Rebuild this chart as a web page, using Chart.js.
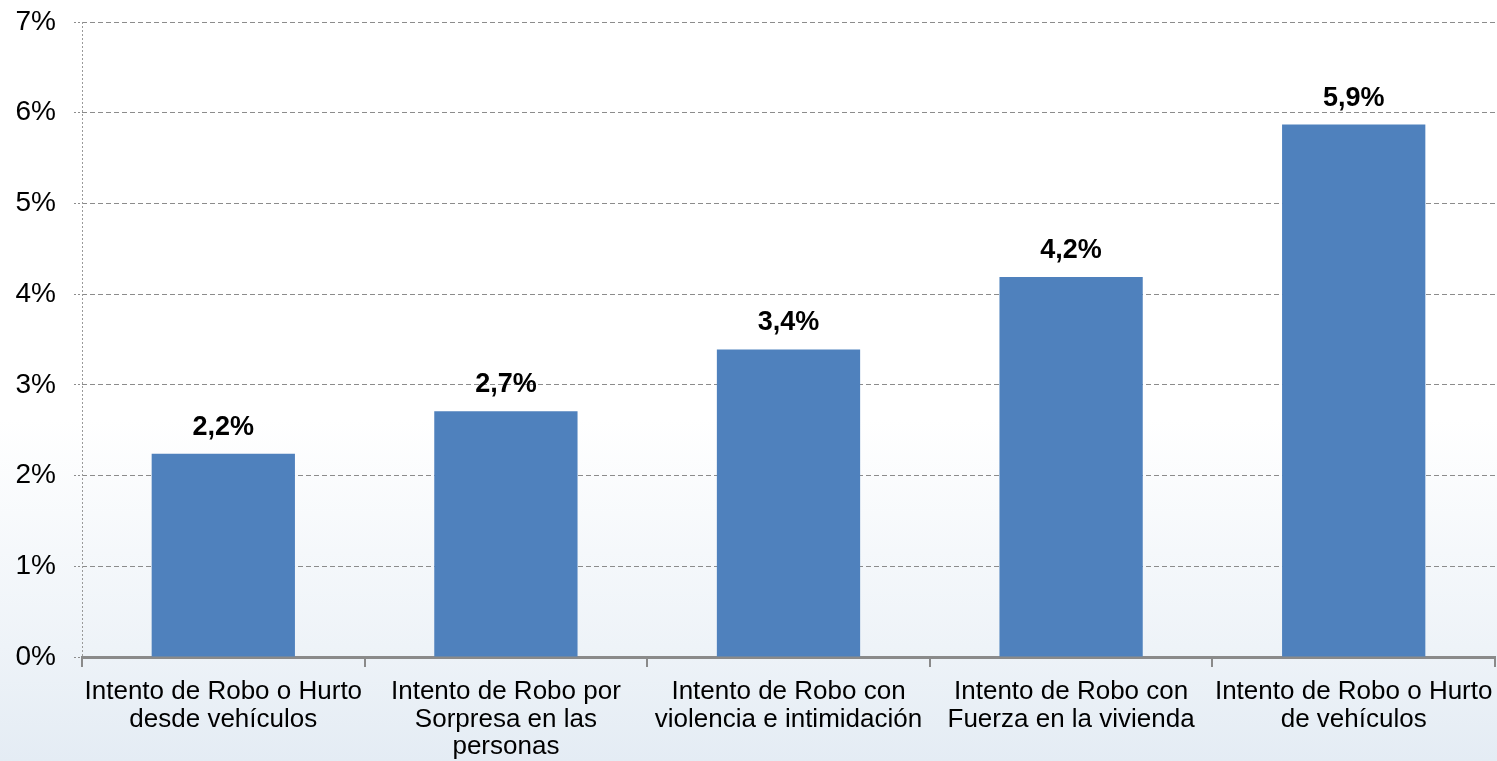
<!DOCTYPE html>
<html>
<head>
<meta charset="utf-8">
<script src="https://cdn.jsdelivr.net/npm/chart.js@4/dist/chart.umd.min.js"></script>
<style>
  html, body { margin: 0; padding: 0; }
  body {
    width: 1497px; height: 761px; overflow: hidden;
    background: linear-gradient(to bottom, #ffffff 0%, #ffffff 55%, #eef3f8 85%, #e4ecf4 100%);
  }
  canvas { display: block; }
</style>
</head>
<body>
<canvas id="grafico" width="1497" height="761"></canvas>
<script>
const categorias = [
    ["Intento de Robo o Hurto", "desde vehículos"],
    ["Intento de Robo por", "Sorpresa en las", "personas"],
    ["Intento de Robo con", "violencia e intimidación"],
    ["Intento de Robo con", "Fuerza en la vivienda"],
    ["Intento de Robo o Hurto", "de vehículos"]
];
const valores = [2.24, 2.71, 3.39, 4.19, 5.87];
const ticksY = [0, 1, 2, 3, 4, 5, 6, 7];

// etiquetas encima de cada barra + eje vertical punteado
const etiquetas = {
    id: "etiquetas",
    beforeDatasetsDraw(chart) {
        const { ctx, chartArea } = chart;
        ctx.save();
        ctx.strokeStyle = "#9a9a9a";
        ctx.lineWidth = 1;
        ctx.setLineDash([2, 2]);
        ctx.beginPath();
        ctx.moveTo(chartArea.left + 0.5, chartArea.top);
        ctx.lineTo(chartArea.left + 0.5, chartArea.bottom);
        ctx.stroke();
        ctx.restore();
    },
    afterDatasetsDraw(chart) {
        const ctx = chart.ctx;
        const meta = chart.getDatasetMeta(0);
        ctx.save();
        ctx.font = "bold 27px 'Liberation Sans', Arial, sans-serif";
        ctx.fillStyle = "#000";
        ctx.textAlign = "center";
        ctx.textBaseline = "alphabetic";
        meta.data.forEach((bar, i) => {
            const txt = valores[i].toFixed(1).replace(".", ",") + "%";
            ctx.fillText(txt, bar.x, bar.y - 19);
        });
        ctx.restore();
    }
};

const ctx = document.getElementById("grafico").getContext("2d");
const grafico = new Chart(ctx, {
    type: "bar",
    data: {
        labels: categorias,
        datasets: [
            {
                data: valores,
                backgroundColor: "#4F81BD",
                borderWidth: 0,
                barPercentage: 0.507,
                categoryPercentage: 1
            }
        ]
    },
    options: {
        responsive: false,
        animation: false,
        layout: { padding: { top: 22, right: 2, left: 14, bottom: 2 } },
        plugins: {
            legend: { display: false },
            tooltip: { enabled: false }
        },
        scales: {
            x: {
                afterFit(scale) {
                    scale.height = 102;
                    scale.paddingLeft = 0;
                    scale.paddingRight = 0;
                },
                grid: {
                    offset: true,
                    drawOnChartArea: false,
                    drawTicks: true,
                    tickLength: 10,
                    color: "#8a8a8a",
                    lineWidth: 2
                },
                border: { color: "#8a8a8a", width: 3 },
                ticks: {
                    color: "#000",
                    padding: 11,
                    maxRotation: 0,
                    autoSkip: false,
                    font: { family: "'Liberation Sans', Arial, sans-serif", size: 26, lineHeight: 1.06 }
                }
            },
            y: {
                min: 0,
                max: 7,
                afterFit(scale) {
                    scale.width = 68;
                    scale.paddingTop = 0;
                    scale.paddingBottom = 0;
                },
                afterBuildTicks(scale) {
                    scale.ticks = ticksY.map(v => ({ value: v }));
                },
                grid: {
                    color: "#8c8c8c",
                    lineWidth: 1,
                    tickLength: 8,
                    tickBorderDash: [2, 2]
                },
                border: { display: false, dash: [5, 3] },
                ticks: {
                    color: "#000",
                    padding: 18,
                    callback: v => v + "%",
                    font: { family: "'Liberation Sans', Arial, sans-serif", size: 28 }
                }
            }
        }
    },
    plugins: [etiquetas]
});
</script>
</body>
</html>
